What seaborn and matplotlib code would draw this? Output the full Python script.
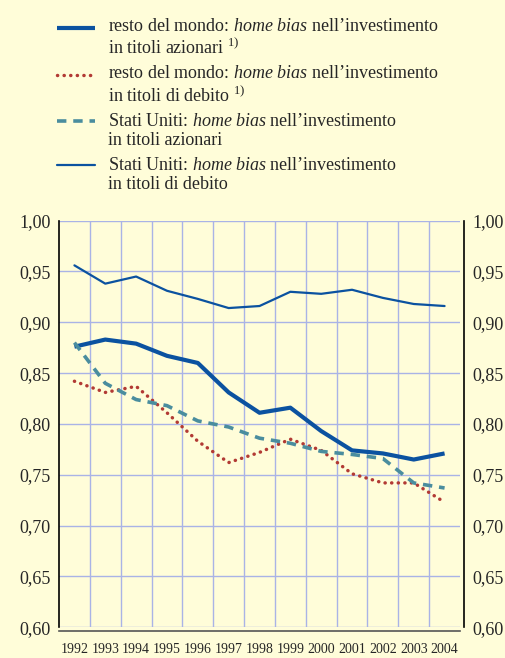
import matplotlib
matplotlib.use('Agg')
import matplotlib.pyplot as plt
import seaborn as sns
import pandas as pd
from matplotlib.ticker import FixedLocator, FuncFormatter

# data (annual values)
years = list(range(1992, 2005))
rdm_azioni = [0.876, 0.883, 0.879, 0.867, 0.860, 0.831, 0.811, 0.816, 0.793, 0.774, 0.771, 0.765, 0.771]
rdm_debito = [0.842, 0.831, 0.837, 0.811, 0.783, 0.762, 0.772, 0.785, 0.774, 0.751, 0.742, 0.742, 0.723]
usa_azioni = [0.880, 0.840, 0.824, 0.818, 0.803, 0.797, 0.786, 0.781, 0.773, 0.770, 0.766, 0.742, 0.737]
usa_debito = [0.956, 0.938, 0.945, 0.931, 0.923, 0.914, 0.916, 0.930, 0.928, 0.932, 0.924, 0.918, 0.916]

labels = [
    'resto del mondo: $\\it{home\\ bias}$ nell\u2019investimento\nin titoli azionari $^{1)}$',
    'resto del mondo: $\\it{home\\ bias}$ nell\u2019investimento\nin titoli di debito $^{1)}$',
    'Stati Uniti: $\\it{home\\ bias}$ nell\u2019investimento\nin titoli azionari',
    'Stati Uniti: $\\it{home\\ bias}$ nell\u2019investimento\nin titoli di debito',
]

bg = '#FFFDD9'
blue = '#0B52A0'
red = '#B23A34'
teal = '#4A8D9E'
gridc = '#A9B3E6'

sns.set_style('white')
plt.rcParams['font.family'] = ['Liberation Serif', 'DejaVu Serif']
plt.rcParams['mathtext.fontset'] = 'custom'
plt.rcParams['mathtext.rm'] = 'Liberation Serif'
plt.rcParams['mathtext.it'] = 'Liberation Serif:italic'

fig = plt.figure(figsize=(5.06, 6.58), dpi=100, facecolor=bg)
ax = fig.add_axes([0.1166, 0.0467, 0.7925, 0.618])
ax.set_facecolor(bg)

df = pd.DataFrame({'anno': years, 'a': rdm_azioni, 'b': rdm_debito, 'c': usa_azioni, 'd': usa_debito})

sns.lineplot(data=df, x='anno', y='a', ax=ax, color=blue, linewidth=3.0, label=labels[0],
             solid_capstyle='butt')
sns.lineplot(data=df, x='anno', y='b', ax=ax, color=red, linewidth=2.5, label=labels[1],
             linestyle=(0, (0.05, 1.85)), dash_capstyle='round')
sns.lineplot(data=df, x='anno', y='c', ax=ax, color=teal, linewidth=2.6, label=labels[2],
             linestyle=(0, (2.6, 1.9)), dash_capstyle='butt')
sns.lineplot(data=df, x='anno', y='d', ax=ax, color=blue, linewidth=1.6, label=labels[3])

ax.set_xlim(1991.5, 2004.5)
ax.set_ylim(0.60, 1.00)
ax.set_xlabel('')
ax.set_ylabel('')

ax.xaxis.set_major_locator(FixedLocator(years))
ax.xaxis.set_minor_locator(FixedLocator([y + 0.5 for y in years[:-1]]))
ax.set_xticklabels([str(y) for y in years], fontsize=11)
ax.tick_params(axis='x', which='major', length=0, pad=8)
ax.tick_params(axis='x', which='minor', length=4, width=1.2, color='#555555', direction='out')

yt = [0.60, 0.65, 0.70, 0.75, 0.80, 0.85, 0.90, 0.95, 1.00]
ax.yaxis.set_major_locator(FixedLocator(yt))
ax.yaxis.set_major_formatter(FuncFormatter(lambda v, p: f'{v:.2f}'.replace('.', ',')))
ax.tick_params(axis='y', which='major', length=0, labelsize=13, labelright=True, pad=6)

ax.grid(True, which='minor', axis='x', color=gridc, linewidth=1)
ax.grid(True, which='major', axis='y', color=gridc, linewidth=1)
ax.set_axisbelow(True)

ax.spines['top'].set_visible(False)
ax.spines['left'].set_color('black')
ax.spines['left'].set_linewidth(1.2)
ax.spines['right'].set_color('black')
ax.spines['right'].set_linewidth(1.2)
ax.spines['right'].set_position(('outward', 3))
ax.spines['bottom'].set_color('#555555')
ax.spines['bottom'].set_linewidth(1.2)
ax.spines['bottom'].set_position(('outward', 3))

ax.legend_.remove()
handles, labs = ax.get_legend_handles_labels()
leg = fig.legend(handles, labs, loc='upper left', bbox_to_anchor=(0.112, 0.973),
                 frameon=False, fontsize=13, handlelength=2.1, handletextpad=0.75,
                 labelspacing=0.4, borderpad=0, borderaxespad=0)
# put each legend key level with the first line of its label
for ln in leg.get_lines():
    ln.set_ydata([v + 7.5 for v in ln.get_ydata()])

fig.savefig('out.png', dpi=100, facecolor=bg)
